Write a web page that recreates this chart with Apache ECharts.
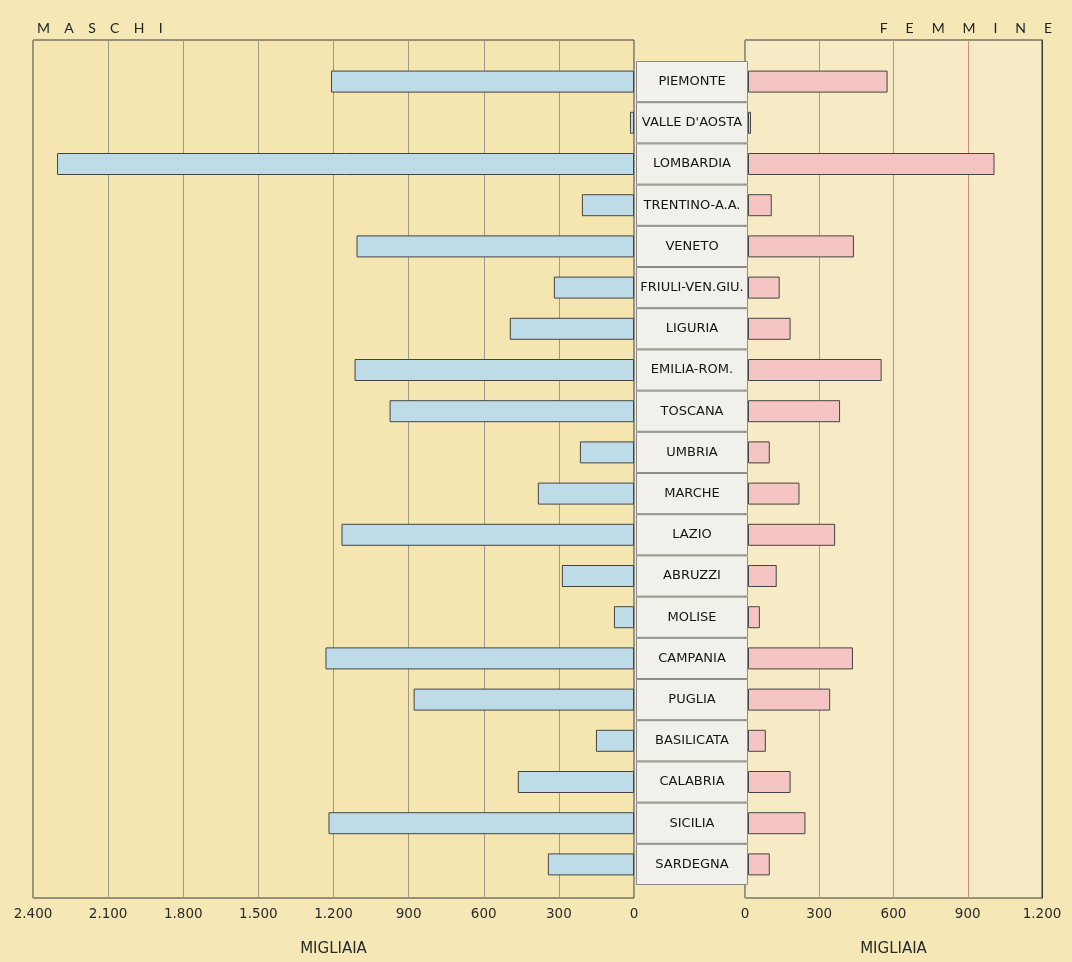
<!DOCTYPE html>
<html>
<head>
<meta charset="utf-8">
<script src="https://cdn.jsdelivr.net/npm/echarts@6/dist/echarts.min.js"></script>
<style>
  html, body { margin: 0; padding: 0; background: #f5e8b9; }
  #chart { width: 1072px; height: 962px; }
</style>
</head>
<body>
<div id="chart"></div>
<script>
// regioni, dall'alto in basso
const regioni = ['PIEMONTE', "VALLE D'AOSTA", 'LOMBARDIA', 'TRENTINO-A.A.', 'VENETO',
  'FRIULI-VEN.GIU.', 'LIGURIA', 'EMILIA-ROM.', 'TOSCANA', 'UMBRIA', 'MARCHE', 'LAZIO',
  'ABRUZZI', 'MOLISE', 'CAMPANIA', 'PUGLIA', 'BASILICATA', 'CALABRIA', 'SICILIA', 'SARDEGNA'];
// migliaia
const maschi = [1210, 16, 2304, 208, 1108, 320, 496, 1116, 976, 216, 384, 1168,
  288, 80, 1232, 880, 152, 464, 1220, 344];
const femmine = [564, 12, 996, 96, 428, 128, 172, 540, 372, 88, 208, 352,
  116, 48, 424, 332, 72, 172, 232, 88];
const tickMaschi = [0, 2400, 300];   // min, max, passo
const tickFemmine = [0, 1200, 300];

const font = '"DejaVu Sans", sans-serif';

// 2.400, 1.200 ...
function migliaia(v) {
  if (v < 1000) return String(v);
  return Math.floor(v / 1000) + '.' + String(v % 1000).padStart(3, '0');
}

const chart = echarts.init(document.getElementById('chart'));

const option = {
  backgroundColor: '#f5e7b6',
  animation: false,
  title: [
    {
      text: 'M    A    S    C    H    I',
      left: 32, top: 16,
      textStyle: { fontFamily: 'Lato, sans-serif', fontSize: 14, fontWeight: 'normal', color: '#222' }
    },
    {
      text: 'F     E     M     M     I     N     E',
      right: 15, top: 16,
      textStyle: { fontFamily: 'Lato, sans-serif', fontSize: 14, fontWeight: 'normal', color: '#222' }
    }
  ],
  grid: [
    // cornici con la griglia
    { left: 33, top: 40, width: 601, height: 865, show: true, borderColor: '#3a3a3a', borderWidth: 1,
      backgroundColor: '#f4e5b1' },
    { left: 745, top: 40, width: 297, height: 865, show: true, borderColor: '#3a3a3a', borderWidth: 1,
      backgroundColor: '#f6ebc5' },
    // barre
    { left: 33, top: 61, width: 601, height: 824 },
    { left: 748, top: 61, width: 294, height: 824 },
    // etichette centrali
    { left: 636, top: 61, width: 112, height: 824 }
  ],
  xAxis: [
    {
      gridIndex: 0, type: 'value', inverse: true,
      min: tickMaschi[0], max: tickMaschi[1], interval: tickMaschi[2],
      axisLine: { show: false }, axisTick: { show: false },
      splitLine: { show: true, lineStyle: { color: '#9c9a88', width: 1 } },
      axisLabel: { formatter: migliaia, margin: 9, fontFamily: font, fontSize: 13.5, color: '#2a2a2a' },
      name: 'MIGLIAIA', nameLocation: 'middle', nameGap: 44,
      nameTextStyle: { fontFamily: font, fontSize: 15, color: '#2a2a2a' }
    },
    {
      gridIndex: 1, type: 'value',
      min: tickFemmine[0], max: tickFemmine[1], interval: tickFemmine[2],
      axisLine: { show: false }, axisTick: { show: false },
      splitLine: { show: true, lineStyle: { color: '#cf8d78', width: 1 } },
      axisLabel: { formatter: migliaia, margin: 9, fontFamily: font, fontSize: 13.5, color: '#2a2a2a' },
      name: 'MIGLIAIA', nameLocation: 'middle', nameGap: 44,
      nameTextStyle: { fontFamily: font, fontSize: 15, color: '#2a2a2a' }
    },
    { gridIndex: 2, type: 'value', inverse: true, min: tickMaschi[0], max: tickMaschi[1], show: false },
    { gridIndex: 3, type: 'value', min: tickFemmine[0], max: 1200 * 294 / 297, show: false },
    { gridIndex: 4, type: 'value', min: 0, max: 1, show: false }
  ],
  yAxis: [
    { gridIndex: 0, type: 'value', show: false },
    {
      // bordo destro scuro sopra la linea dei 1.200
      gridIndex: 1, type: 'value', position: 'right',
      axisLine: { show: true, onZero: false, lineStyle: { color: '#3a3a3a', width: 1 } },
      axisTick: { show: false }, axisLabel: { show: false }, splitLine: { show: false }
    },
    { gridIndex: 2, type: 'category', data: regioni, inverse: true, show: false },
    { gridIndex: 3, type: 'category', data: regioni, inverse: true, show: false },
    { gridIndex: 4, type: 'category', data: regioni, inverse: true, show: false }
  ],
  series: [
    {
      name: 'Maschi', type: 'bar', xAxisIndex: 2, yAxisIndex: 2,
      data: maschi, barWidth: 22,
      itemStyle: { color: '#bddce7', borderColor: '#444', borderWidth: 1 }
    },
    {
      name: 'Femmine', type: 'bar', xAxisIndex: 3, yAxisIndex: 3,
      data: femmine, barWidth: 22,
      itemStyle: { color: '#f5c5c3', borderColor: '#444', borderWidth: 1 }
    },
    {
      name: 'Regioni', type: 'bar', xAxisIndex: 4, yAxisIndex: 4,
      data: regioni.map(() => 1), barWidth: '100%', barCategoryGap: 0,
      itemStyle: { color: '#f1f0ea', borderColor: '#8a8a86', borderWidth: 1 },
      label: {
        show: true, position: 'inside', formatter: '{b}',
        fontFamily: '"DejaVu Sans", sans-serif',
        fontSize: 13, color: '#151515'
      }
    }
  ]
};

chart.setOption(option);
</script>
</body>
</html>
